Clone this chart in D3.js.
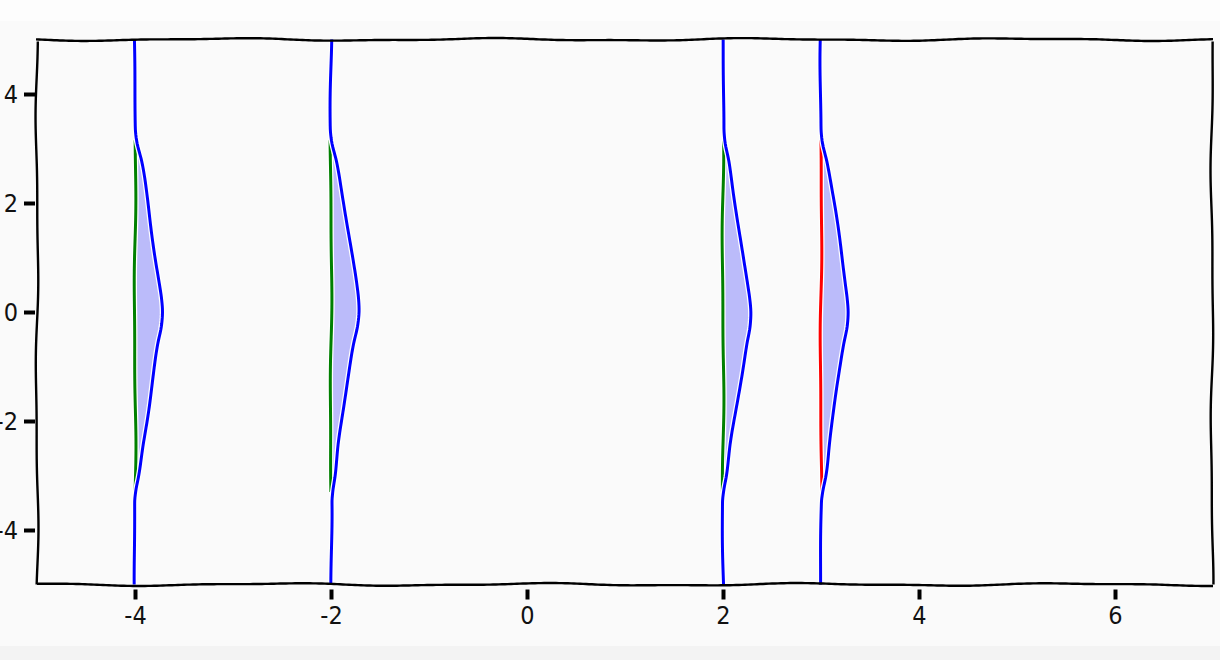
<!DOCTYPE html>
<html>
<head>
<meta charset="utf-8">
<script src="https://cdn.jsdelivr.net/npm/d3@7"></script>
<style>
  body { margin: 0; background: #fafafa; }
  svg { display: block; }
</style>
</head>
<body>
<svg id="chart" width="1220" height="660"></svg>
<script>
// vertical lines and the colour of their straight part
var positions = [-4, -2, 2, 3];
var baseColors = ["green", "green", "green", "red"];
// bump of the blue curve (dx in x units at each y)
var profileY  = [5, 4, 3.4, 3.15, 2.75, 2.1, 1.5, 0.9, 0.5, 0.25, 0, -0.25, -0.6, -1.2, -1.8, -2.4, -3.0, -3.3, -3.5, -4, -5];
var profileDx = [0, 0, 0, 0.01, 0.06, 0.12, 0.17, 0.22, 0.255, 0.275, 0.285, 0.275, 0.235, 0.18, 0.13, 0.08, 0.04, 0.01, 0, 0, 0];
// straight part spans
var baseTop = 3.15, baseBottom = -3.3;
var xTicks = [-4, -2, 0, 2, 4, 6];
var yTicks = [-4, -2, 0, 2, 4];

var svg = d3.select("#chart");
svg.append("rect").attr("width", 1220).attr("height", 21).attr("fill", "#fdfdfd");
svg.append("rect").attr("y", 646).attr("width", 1220).attr("height", 14).attr("fill", "#f3f3f3");

var x = d3.scaleLinear().domain([-5, 7]).range([37, 1213]);
var y = d3.scaleLinear().domain([-5, 5]).range([584.5, 39.5]);

// sample a path densely, then push it sideways a little (xkcd look)
var scratch = svg.append("path").attr("fill", "none").attr("stroke", "none");
function sample(d) {
    scratch.attr("d", d);
    var node = scratch.node(), len = node.getTotalLength(), out = [];
    var n = Math.max(2, Math.ceil(len / 3));
    for (var i = 0; i <= n; i++) {
        var p = node.getPointAtLength(len * i / n);
        out.push([p.x, p.y]);
    }
    return out;
}
function wiggle(pts, seed, amp) {
    var s = 0, out = [];
    for (var i = 0; i < pts.length; i++) {
        if (i > 0) s += Math.hypot(pts[i][0] - pts[i - 1][0], pts[i][1] - pts[i - 1][1]);
        var a = pts[Math.max(0, i - 1)], b = pts[Math.min(pts.length - 1, i + 1)];
        var dx = b[0] - a[0], dy = b[1] - a[1], l = Math.hypot(dx, dy) || 1;
        var nx = -dy / l, ny = dx / l;
        var d = amp * (0.7 * Math.sin(s / 42 + seed * 1.9) + 0.3 * Math.sin(s / 19 + seed * 3.7));
        out.push([pts[i][0] + nx * d, pts[i][1] + ny * d]);
    }
    return out;
}
var line = d3.line();

var plot = svg.append("g");

positions.forEach(function(x0, k) {
    var blueData = profileY.map(function(v, i) { return [x(x0 + profileDx[i]), y(v)]; });
    var bluePts = wiggle(sample(d3.line().curve(d3.curveMonotoneY)(blueData)), k * 2 + 1, 1.1);
    var basePts = wiggle(sample(line([[x(x0), y(baseTop)], [x(x0), y(baseBottom)]])), k * 2 + 2, 1.0);

    var yTop = basePts[0][1], yBot = basePts[basePts.length - 1][1];
    var fillPts = basePts.concat(bluePts.filter(function(p) { return p[1] >= yTop && p[1] <= yBot; }).reverse());
    plot.append("path").attr("d", line(fillPts) + "Z").attr("fill", "rgb(187,187,250)");

    [[basePts, baseColors[k]], [bluePts, "blue"]].forEach(function(c) {
        plot.append("path").attr("d", line(c[0])).attr("fill", "none")
            .attr("stroke", "white").attr("stroke-width", 5.5).attr("stroke-linejoin", "round");
        plot.append("path").attr("d", line(c[0])).attr("fill", "none")
            .attr("stroke", c[1]).attr("stroke-width", 3).attr("stroke-linecap", "butt").attr("stroke-linejoin", "round");
    });
});
scratch.remove();

// spines
var x0r = x.range()[0], x1r = x.range()[1], yb = y.range()[0], yt = y.range()[1];
var spines = [
    [[x0r - 1, yt], [x1r, yt]],
    [[x0r, yt + 2], [x0r, yb]],
    [[x0r, yb], [x1r, yb]],
    [[x1r - 1, yt + 2], [x1r - 1, yb]]
];
spines.forEach(function(s, i) {
    var pts = wiggle(sample(line(s)), 10 + i * 3, 1.5);
    svg.append("path").attr("d", line(pts)).attr("fill", "none")
        .attr("stroke", "#000").attr("stroke-width", 2.4);
});

// axes
var gx = svg.append("g").attr("transform", "translate(0," + yb + ")")
    .call(d3.axisBottom(x).tickValues(xTicks).tickSize(15).tickPadding(7).tickFormat(d3.format("d")));
gx.select(".domain").remove();
gx.selectAll(".tick line").attr("y1", 5).attr("stroke", "#000").attr("stroke-width", 4);
gx.selectAll(".tick text").text(function(d) { return String(d); });

var gy = svg.append("g").attr("transform", "translate(" + x0r + ",0)")
    .call(d3.axisLeft(y).tickValues(yTicks).tickSize(13).tickPadding(6));
gy.select(".domain").remove();
gy.selectAll(".tick line").attr("x1", -2).attr("stroke", "#000").attr("stroke-width", 4);
gy.selectAll(".tick text").text(function(d) { return String(d); });

svg.selectAll(".tick text")
    .attr("font-family", "DejaVu Sans Condensed, DejaVu Sans, sans-serif")
    .style("font-stretch", "condensed")
    .style("font-size", "25px")
    .attr("fill", "#111");
</script>
</body>
</html>
